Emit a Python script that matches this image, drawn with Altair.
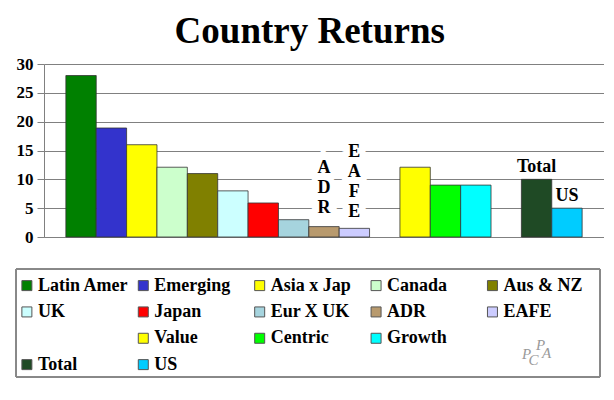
import altair as alt
import pandas as pd

# ---- data ----
categories = ["Latin Amer", "Emerging", "Asia x Jap", "Canada", "Aus & NZ",
              "UK", "Japan", "Eur X UK", "ADR", "EAFE",
              "Value", "Centric", "Growth", "Total", "US"]
values = [28, 18.9, 16, 12.1, 11, 8, 5.9, 3, 1.8, 1.5, 12.1, 9, 9, 10, 5]
colors = ["#008000", "#3333CC", "#FFFF00", "#CCFFCC", "#808000",
          "#CCFFFF", "#FF0000", "#A6D4DE", "#B89A6E", "#CCCCFF",
          "#FFFF00", "#00FF00", "#00FFFF", "#1F4A25", "#00CCFF"]
# category slots on the x axis (two empty slots separate the groups)
slots = categories[:10] + ["gap1"] + categories[10:13] + ["gap2"] + categories[13:]
vertical_labels = {"ADR": "A\nD\nR", "EAFE": "E\nA\nF\nE"}
top_labels = {"Total": "Total", "US": "US"}
legend_cols = [0, 1, 2, 3, 4, 0, 1, 2, 3, 4, 1, 2, 3, 0, 1]
legend_rows = [0, 0, 0, 0, 0, 1, 1, 1, 1, 1, 2, 2, 2, 3, 3]
y_ticks = [0, 5, 10, 15, 20, 25, 30]
logo_letters = ["P", "C", "P", "A"]

FONT = "Liberation Serif"

df = pd.DataFrame({
    "category": categories,
    "value": values,
    "vlabel": [vertical_labels.get(c, "") for c in categories],
    "tlabel": [top_labels.get(c, "") for c in categories],
})

color_scale = alt.Scale(domain=categories, range=colors)

base = alt.Chart(df).encode(
    x=alt.X("category:N", sort=slots,
            scale=alt.Scale(domain=slots, paddingInner=0, paddingOuter=0.72),
            axis=alt.Axis(labels=False, ticks=False, title=None,
                          domainColor="#808080", grid=False)),
    y=alt.Y("value:Q", scale=alt.Scale(domain=[0, 30], nice=False),
            axis=alt.Axis(values=y_ticks, title=None, labelFont=FONT,
                          labelFontWeight="bold", labelFontSize=17,
                          labelColor="black", tickColor="#808080", tickSize=7,
                          labelPadding=4, gridColor="#808080",
                          domainColor="#808080")),
)

bars = base.mark_bar(stroke="#333333", strokeWidth=0.8).encode(
    color=alt.Color("category:N", scale=color_scale, legend=None)
)

vstyle = dict(font=FONT, fontWeight="bold", fontSize=18, baseline="bottom",
              lineBreak="\n", lineHeight=20)
label_layers = []
for cat, dy in [("ADR", -50), ("EAFE", -67)]:
    sel = base.transform_filter(alt.datum.category == cat)
    label_layers.append(sel.mark_text(color="white", stroke="white",
                                      strokeWidth=12, dy=dy, **vstyle)
                        .encode(text="vlabel:N"))
    label_layers.append(sel.mark_text(color="black", dy=dy, **vstyle)
                        .encode(text="vlabel:N"))

ttext = base.transform_filter("datum.tlabel != ''").mark_text(
    color="black", font=FONT, fontWeight="bold", fontSize=18,
    baseline="bottom", dy=-3
).encode(text="tlabel:N")

main = alt.layer(bars, *label_layers, ttext).properties(
    width=560, height=173, view=alt.ViewBackground(strokeWidth=0)
)

# ---- legend box (its frame reaches left of the plot origin, as in the original) ----
LEG_W, LEG_H = 556, 108
legend_df = pd.DataFrame({"category": categories, "col": legend_cols, "row": legend_rows})
xs = alt.Scale(domain=[0.147, 4.924])
ys = alt.Scale(domain=[-0.63, 3.47], reverse=True)
lbase = alt.Chart(legend_df).encode(
    x=alt.X("col:Q", scale=xs, axis=None),
    y=alt.Y("row:Q", scale=ys, axis=None),
)
frame = alt.Chart(legend_df).mark_rect(
    filled=False, stroke="#888888", strokeWidth=1
).encode(x=alt.value(-28), x2=alt.value(LEG_W), y=alt.value(0), y2=alt.value(LEG_H))

swatches = lbase.mark_square(size=100, stroke="#555555", strokeWidth=1, opacity=1).encode(
    color=alt.Color("category:N", scale=color_scale, legend=None)
)
ltext = lbase.mark_text(align="left", baseline="middle", dx=11, font=FONT,
                        fontWeight="bold", fontSize=18, color="black").encode(
    text="category:N")

logo_df = pd.DataFrame({"col": [4], "row": [3]})
logo_base = alt.Chart(logo_df).encode(
    x=alt.X("col:Q", scale=xs, axis=None),
    y=alt.Y("row:Q", scale=ys, axis=None),
)
logo_offsets = [(34, -11), (41, -5), (48, -20), (54, -12)]
logo_layers = [
    logo_base.mark_text(text=t, dx=dx, dy=dy, font=FONT, fontStyle="italic",
                        fontSize=15, color="#999999")
    for t, (dx, dy) in zip(logo_letters, logo_offsets)
]

legend = alt.layer(frame, swatches, ltext, *logo_layers).properties(
    width=LEG_W, height=LEG_H,
    view=alt.ViewBackground(strokeWidth=0),
)

chart = alt.vconcat(main, legend, spacing=23).properties(
    title=alt.TitleParams("Country Returns", font=FONT, fontSize=37,
                          fontWeight="bold", color="black", anchor="middle",
                          offset=4),
    padding={"left": 7, "top": 5, "right": 0, "bottom": 0},
).configure(font=FONT)

chart.save("out.html", embed_options={"renderer": "svg", "actions": False})
